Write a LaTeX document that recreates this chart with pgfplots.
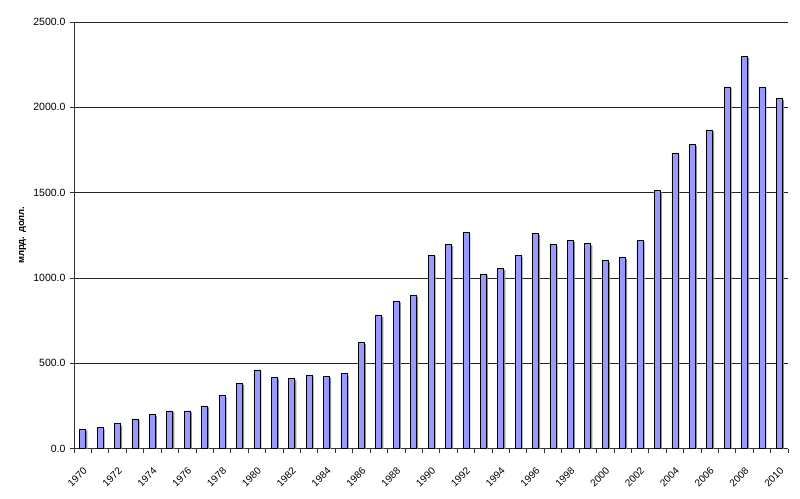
\documentclass[border=0pt]{standalone}
\usepackage{pgfplots}
\pgfplotsset{compat=1.18}
\usepackage{fontspec}
\setmainfont{Liberation Sans}
\definecolor{barblue}{RGB}{153,153,255}
\begin{document}
\begin{tikzpicture}
\useasboundingbox (-74pt,-49.5pt) rectangle (726pt,448.5pt);
\begin{axis}[
  scale only axis,
  width=714pt, height=426.5pt,
  at={(0,0)}, anchor=south west,
  xmin=1969.5, xmax=2010.5,
  ymin=0, ymax=2500,
  ytick={0,500,...,2500},
  xtick={1970,1972,...,2010},
  minor xtick={1969.5,1970.5,...,2010.5},
  major x tick style={draw=none},
  minor tick length=4pt,
  major tick length=4pt,
  tick align=outside,
  axis x line*=bottom,
  axis y line*=left,
  axis line style={-, black!80, line width=0.8pt},
  ymajorgrids,
  grid style={black!85, line width=0.7pt},
  ytick style={black!80, line width=0.7pt},
  minor x tick style={black!80, line width=0.7pt},
  xticklabel style={rotate=45, anchor=north east, inner sep=1pt, font=\fontsize{10}{12}\selectfont, xshift=-9pt, yshift=-9pt},
  yticklabel style={font=\fontsize{10.5}{12}\selectfont, xshift=-1pt},
  /pgf/number format/assume math mode=true,
  y tick label style={/pgf/number format/.cd, fixed, fixed zerofill, precision=1, 1000 sep={}},
  x tick label style={/pgf/number format/.cd, 1000 sep={}},
  ylabel={\textbf{млрд. долл.}},
  ylabel style={at={(axis description cs:-0.072,0.5)}, anchor=center, rotate=0, font=\fontsize{9.5}{11}\selectfont},
  ybar, bar width=6pt,
  clip=true,
]
\addplot[fill=black!45, draw=none, bar shift=1.6pt, yshift=-1.5pt] coordinates {
(1970,114) (1971,124) (1972,145) (1973,173) (1974,198) (1975,220) (1976,220) (1977,250) (1978,309) (1979,382)
(1980,461) (1981,417) (1982,413) (1983,429) (1984,423) (1985,438) (1986,622) (1987,781) (1988,865) (1989,898)
(1990,1134) (1991,1197) (1992,1269) (1993,1023) (1994,1056) (1995,1130) (1996,1261) (1997,1197) (1998,1220) (1999,1203)
(2000,1101) (2001,1121) (2002,1222) (2003,1511) (2004,1730) (2005,1783) (2006,1867) (2007,2119) (2008,2299) (2009,2115) (2010,2053)
};
\addplot[fill=barblue, draw=black, line width=0.6pt, bar shift=0pt] coordinates {
(1970,114) (1971,124) (1972,145) (1973,173) (1974,198) (1975,220) (1976,220) (1977,250) (1978,309) (1979,382)
(1980,461) (1981,417) (1982,413) (1983,429) (1984,423) (1985,438) (1986,622) (1987,781) (1988,865) (1989,898)
(1990,1134) (1991,1197) (1992,1269) (1993,1023) (1994,1056) (1995,1130) (1996,1261) (1997,1197) (1998,1220) (1999,1203)
(2000,1101) (2001,1121) (2002,1222) (2003,1511) (2004,1730) (2005,1783) (2006,1867) (2007,2119) (2008,2299) (2009,2115) (2010,2053)
};
\end{axis}
\end{tikzpicture}
\end{document}
